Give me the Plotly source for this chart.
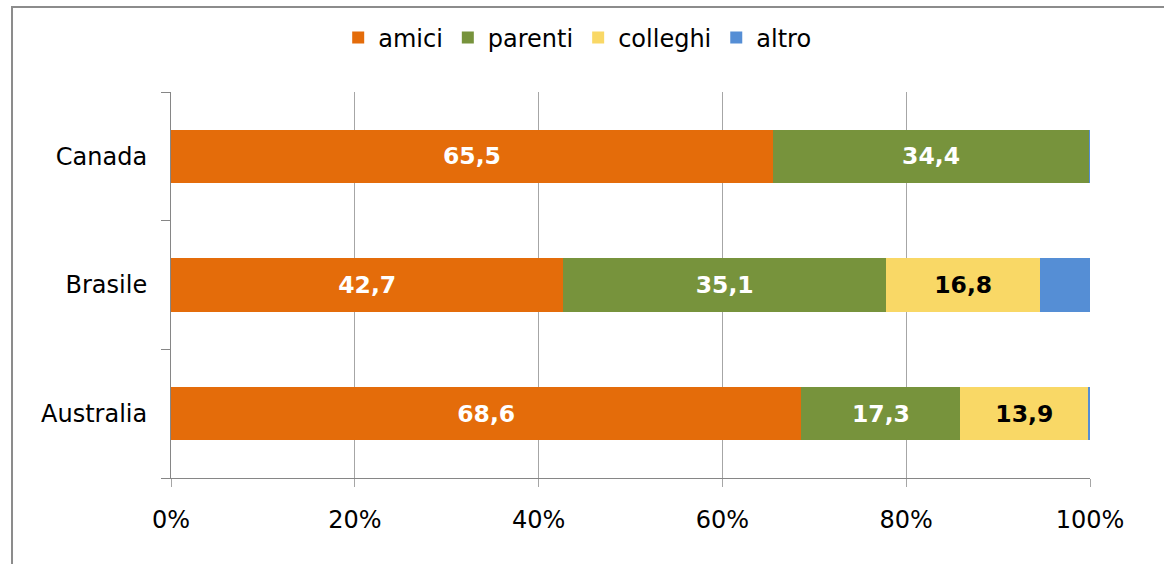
import plotly.graph_objects as go

countries = ["Australia", "Brasile", "Canada"]
series_names = ["amici", "parenti", "colleghi", "altro"]
amici = [68.6, 42.7, 65.5]
parenti = [17.3, 35.1, 34.4]
colleghi = [13.9, 16.8, 0.0]
altro = [0.2, 5.4, 0.1]
colors = ["#E46C0A", "#77933C", "#F9D866", "#558ED5"]
label_colors = ["white", "white", "black", None]
x_ticks = [0, 20, 40, 60, 80, 100]
x_tick_labels = ["0%", "20%", "40%", "60%", "80%", "100%"]

FONT = "DejaVu Sans"
fig = go.Figure()
for name, vals, col, lc in zip(series_names, [amici, parenti, colleghi, altro], colors, label_colors):
    if lc is not None:
        txt = [("%.1f" % v).replace(".", ",") if v >= 5 else "" for v in vals]
    else:
        txt = ["" for v in vals]
    fig.add_trace(go.Bar(
        y=countries, x=vals, name=name, orientation="h",
        marker=dict(color=col, line=dict(width=0)),
        text=txt, textposition="inside", insidetextanchor="middle",
        textangle=0, constraintext="none",
        insidetextfont=dict(family=FONT, size=23.5, color=lc or "white", weight="bold"),
        hoverinfo="x+y+name",
    ))

fig.update_layout(
    barmode="stack", bargap=0.585,
    width=1164, height=564,
    margin=dict(l=171, r=74, t=92, b=86),
    paper_bgcolor="white", plot_bgcolor="white",
    font=dict(family=FONT, size=24, color="black"),
    showlegend=True,
    legend=dict(orientation="h", x=0.442, xanchor="center", y=1.14, yanchor="middle",
                font=dict(family=FONT, size=24, color="black"),
                itemwidth=30, traceorder="normal", bgcolor="rgba(0,0,0,0)"),
    xaxis=dict(range=[0, 100], tickvals=x_ticks, ticktext=x_tick_labels,
               showgrid=True, gridcolor="#A6A6A6", gridwidth=1,
               showline=True, linecolor="#868686", linewidth=1,
               ticks="outside", ticklen=8, tickcolor="#A6A6A6",
               zeroline=False, fixedrange=True,
               tickfont=dict(family=FONT, size=24, color="black"),
               ticklabelstandoff=12),
    yaxis=dict(categoryorder="array", categoryarray=countries,
               range=[-0.5, 2.5], tickson="boundaries",
               showline=True, linecolor="#868686", linewidth=1,
               ticks="outside", ticklen=9, tickcolor="#868686",
               showgrid=False, zeroline=False,
               tickfont=dict(family=FONT, size=24, color="black"),
               ticklabelstandoff=18),
    shapes=[dict(type="rect", xref="paper", yref="paper",
                 x0=-0.173, x1=1.2, y0=-0.3, y1=1.2202,
                 line=dict(color="#8C8C8C", width=2), fillcolor="rgba(0,0,0,0)", layer="below")],
)

fig.write_html("out.html", config={"displayModeBar": False},
               post_script="document.body.style.margin='0';")
